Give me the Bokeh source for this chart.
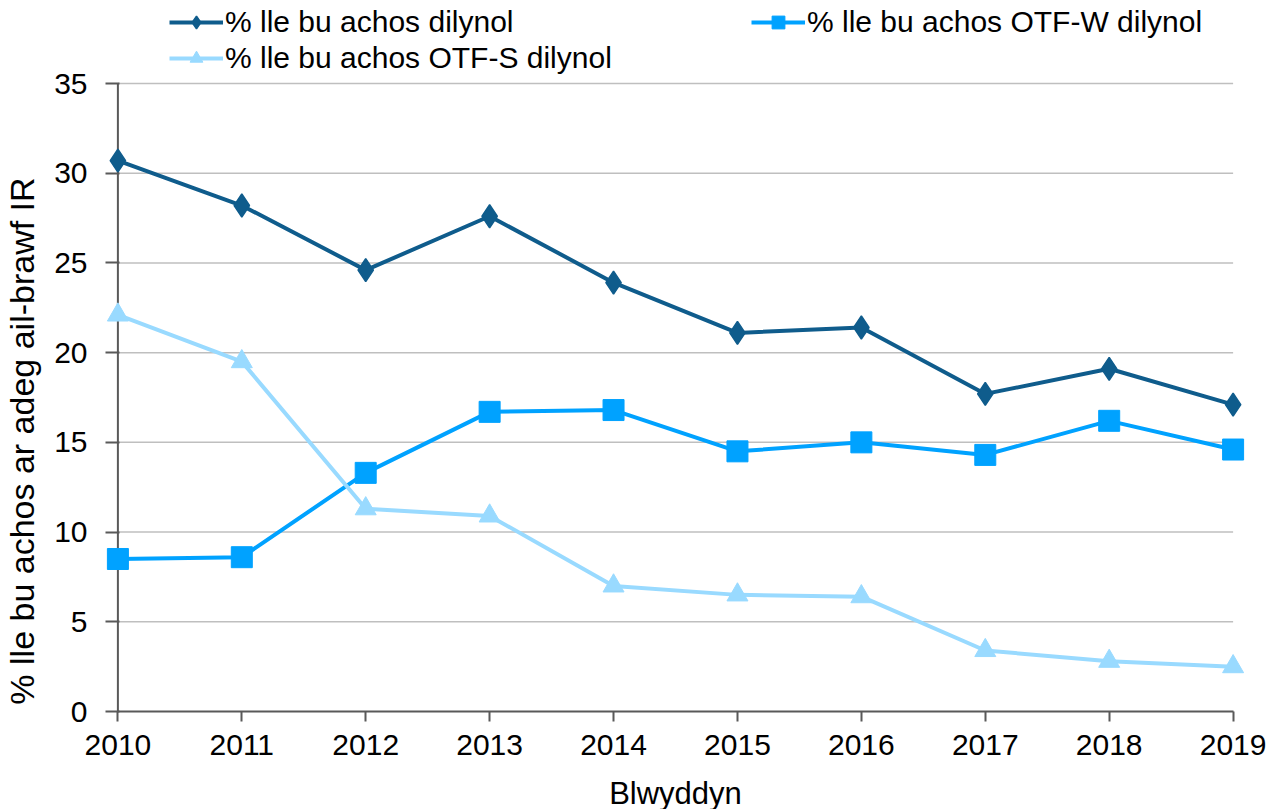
from bokeh.plotting import figure
from bokeh.models import Legend, LegendItem, FixedTicker, Range1d
from bokeh.embed import file_html
from bokeh.resources import INLINE

years = [2010, 2011, 2012, 2013, 2014, 2015, 2016, 2017, 2018, 2019]
dilynol = [30.7, 28.2, 24.6, 27.6, 23.9, 21.1, 21.4, 17.7, 19.1, 17.1]
otf_w = [8.5, 8.6, 13.3, 16.7, 16.8, 14.5, 15.0, 14.3, 16.2, 14.6]
otf_s = [22.1, 19.5, 11.3, 10.9, 7.0, 6.5, 6.4, 3.4, 2.8, 2.5]
y_ticks = [0, 5, 10, 15, 20, 25, 30, 35]

names = ["% lle bu achos dilynol", "% lle bu achos OTF-W dilynol", "% lle bu achos OTF-S dilynol"]
colors = ["#0F5C8C", "#00A2FF", "#99DAFF"]
y_title = "% lle bu achos ar adeg ail-brawf IR"
x_title = "Blwyddyn"

FONT = "Liberation Sans"
AXIS_COLOR = "#595959"
PAD = 0.1
FRAME_H = 711
Y_TOP = 35 * FRAME_H / 628.0   # room above 35 for the legend

p = figure(frame_width=1140, frame_height=FRAME_H, output_backend="svg", toolbar_location=None,
           x_range=Range1d(years[0] - PAD, years[-1] + PAD), y_range=Range1d(0, Y_TOP),
           min_border_left=103, min_border_right=28, min_border_top=0, min_border_bottom=96)
p.outline_line_color = None
p.xgrid.grid_line_color = None
p.ygrid.grid_line_color = None

# horizontal gridlines spanning the category extent only
p.segment(x0=[years[0]] * len(y_ticks[1:]), x1=[years[-1]] * len(y_ticks[1:]),
          y0=y_ticks[1:], y1=y_ticks[1:], line_color="#BFBFBF", line_width=1.5)
# vertical axis line at the first category
p.segment(x0=[years[0]], x1=[years[0]], y0=[y_ticks[0]], y1=[y_ticks[-1]],
          line_color=AXIS_COLOR, line_width=2)

for ax in (p.xaxis, p.yaxis):
    ax.axis_line_color = AXIS_COLOR
    ax.axis_line_width = 2
    ax.major_tick_line_color = AXIS_COLOR
    ax.major_tick_line_width = 2
    ax.minor_tick_line_color = None
    ax.major_label_text_font = FONT
    ax.major_label_text_font_size = "30px"
    ax.major_label_text_color = "#000000"
    ax.axis_label_text_font = FONT
    ax.axis_label_text_font_style = "normal"
    ax.axis_label_text_color = "#000000"

p.xaxis.major_tick_in = 0
p.xaxis.major_tick_out = 10
p.yaxis.axis_line_color = None
p.yaxis.major_tick_in = 14
p.yaxis.major_tick_out = 0

p.xaxis.ticker = FixedTicker(ticks=years)
p.xaxis.bounds = (years[0], years[-1])
p.yaxis.ticker = FixedTicker(ticks=y_ticks)
p.yaxis.bounds = (0, 35)
p.xaxis.axis_label = x_title
# trailing no-break spaces shift the centred title down to the 0-35 span
p.yaxis.axis_label = y_title + "\u00a0" * 18
p.xaxis.axis_label_text_font_size = "31px"
p.yaxis.axis_label_text_font_size = "34px"
p.xaxis.major_label_standoff = 13
p.yaxis.major_label_standoff = 18
p.xaxis.axis_label_standoff = 18
p.yaxis.axis_label_standoff = 10

l1 = p.line(years, dilynol, line_color=colors[0], line_width=4)
m1 = p.scatter(years, dilynol, marker="diamond", size=23, line_width=1.5,
               fill_color=colors[0], line_color=colors[0])
l2 = p.line(years, otf_w, line_color=colors[1], line_width=4)
m2 = p.scatter(years, otf_w, marker="square", size=21, fill_color=colors[1], line_color=colors[1])
l3 = p.line(years, otf_s, line_color=colors[2], line_width=4)
m3 = p.scatter(years, otf_s, marker="triangle", size=21, fill_color=colors[2], line_color=colors[2])

legend = Legend(items=[
    LegendItem(label=names[0], renderers=[l1, m1]),
    LegendItem(label=names[2], renderers=[l3, m3]),
    LegendItem(label=names[1], renderers=[l2, m2]),
], ncols=2, location=(64, 636))
legend.label_text_font = FONT
legend.label_text_font_size = "30px"
legend.label_text_color = "#000000"
legend.glyph_width = 54
legend.glyph_height = 32
legend.label_height = 32
legend.label_width = 524
legend.label_standoff = 2
legend.spacing = 2
legend.padding = 0
legend.margin = 0
legend.border_line_color = None
legend.background_fill_alpha = 0
p.add_layout(legend)

open("out.html", "w").write(file_html(p, INLINE))
